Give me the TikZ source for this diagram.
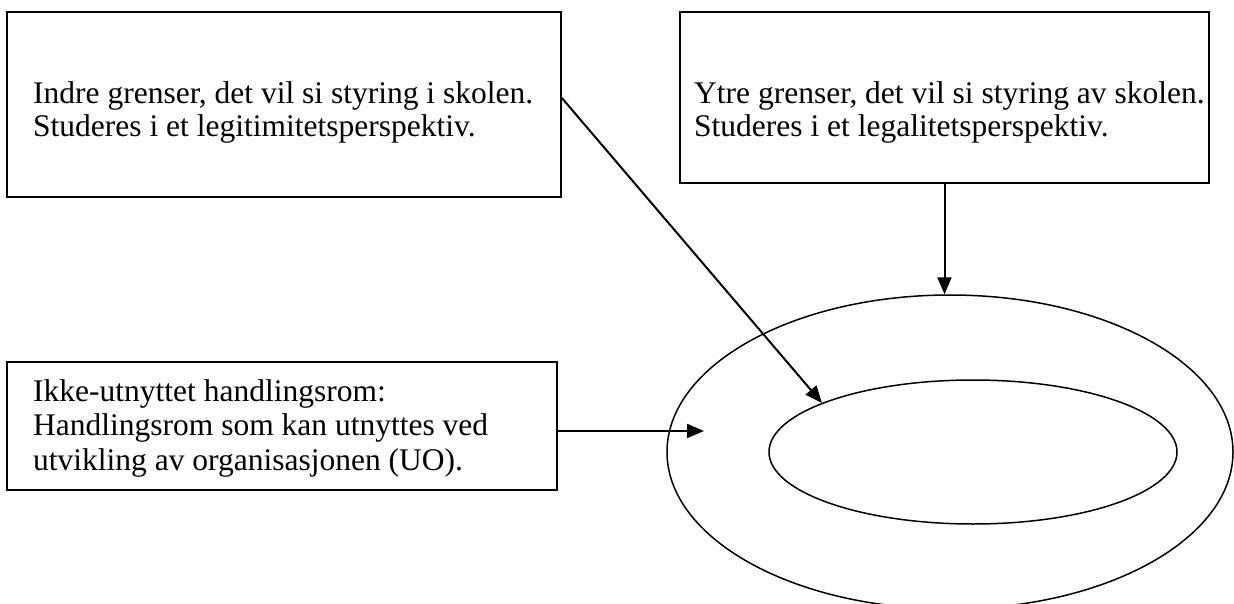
\documentclass[tikz,border=0pt]{standalone}
\usepackage{fontspec}
\setmainfont{Liberation Serif}
\usetikzlibrary{arrows.meta,shapes.geometric}
\begin{document}
\begin{tikzpicture}[x=1pt,y=-1pt,
  box/.style={draw, line width=1.8pt, inner sep=0pt, minimum width=#1},
  ring/.style={draw, ellipse, line width=1.5pt, inner sep=0pt},
  txt/.style={anchor=base west, inner sep=0pt, font=\fontsize{31.5}{35.5}\selectfont},
  arr/.style={line width=2pt, -{Triangle[length=17pt,width=14pt]}}]
\useasboundingbox (0,0) rectangle (1234,604);
% boxes
\node[box=554, minimum height=185] (b1) at (284,104.5) {};
\node[box=529, minimum height=171] (b2) at (944.5,97.5) {};
\node[box=550, minimum height=128] (b3) at (282,426) {};
% texts
\node[txt] (t1a) at (33,104) {Indre grenser, det vil si styring i skolen.};
\node[txt] (t1b) at (33,137) {Studeres i et legitimitetsperspektiv.};
\node[txt] (t2a) at (694,104) {Ytre grenser, det vil si styring av skolen.};
\node[txt] (t2b) at (694,137) {Studeres i et legalitetsperspektiv.};
\node[txt] (t3a) at (33,401) {Ikke-utnyttet handlingsrom:};
\node[txt] (t3b) at (33,435.5) {Handlingsrom som kan utnyttes ved};
\node[txt] (t3c) at (33,470) {utvikling av organisasjonen (UO).};
% ellipses
\node[ring, minimum width=566, minimum height=314] (out) at (950,452) {};
\node[ring, minimum width=408, minimum height=144] (in) at (973,452) {};
% connectors
\coordinate (a1s) at (b1.east |- 0,98);
\draw[arr] (a1s) -- (in.162.6);
\draw[arr] (b2.south) -- (b2.south |- out.north);
\coordinate (a3s) at (b3.east |- 0,431);
\coordinate (a3e) at (704,431);
\draw[arr] (a3s) -- (a3e);
\end{tikzpicture}
\end{document}
